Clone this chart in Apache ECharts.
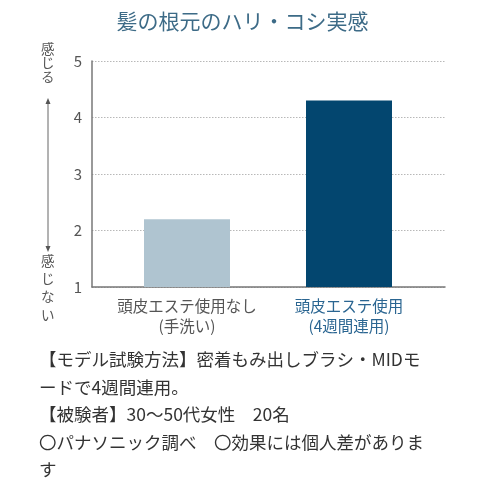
<!DOCTYPE html>
<html><head><meta charset="utf-8">
<script src="https://cdn.jsdelivr.net/npm/echarts@6/dist/echarts.min.js"></script>
<style>html,body{margin:0;padding:0;background:#fff}#c{width:485px;height:479px}</style>
</head><body><div id="c"></div>
<script>
const title = '髪の根元のハリ・コシ実感';
const categories = ['頭皮エステ使用なし\n(手洗い)', '頭皮エステ使用\n(4週間連用)'];
const values = [2.2, 4.3];
const barColors = ['#afc4d0', '#03466f'];
const labelColors = ['#555555', '#2a6591'];
const yMin = 1, yMax = 5, yInterval = 1;
const yTop = '感\nじ\nる';
const yBottom = '感\nじ\nな\nい';
const notes = [
  '【モデル試験方法】密着もみ出しブラシ・MIDモ',
  'ードで4週間連用。',
  '【被験者】30〜50代女性　20名',
  '〇パナソニック調べ　〇効果には個人差がありま',
  'す'
];
const FONT = '"Noto Sans CJK JP", "Noto Sans", sans-serif';

const chart = echarts.init(document.getElementById('c'));
const noteGraphics = notes.map((t, i) => ({
  type: 'text', left: 39, top: 351 + i * 27.5,
  style: { text: t, font: '17.5px ' + FONT, fill: '#333' }
}));
chart.setOption({
  animation: false,
  textStyle: { fontFamily: FONT },
  title: { text: title, left: 'center', top: 6,
    textStyle: { fontSize: 21, fontWeight: 'normal', color: '#3d6b87', fontFamily: FONT } },
  grid: [
    { left: 92, right: 40, top: 61, bottom: 192 },
    { left: 106, right: 55, top: 61, bottom: 192 }
  ],
  xAxis: [
    { gridIndex: 0, type: 'category', data: categories,
      axisLine: { lineStyle: { color: '#777', width: 1.5 } },
      axisTick: { show: false }, axisLabel: { show: false } },
    { gridIndex: 1, type: 'category', data: categories,
      axisLine: { show: false }, axisTick: { show: false },
      axisLabel: { interval: 0, margin: 9, fontSize: 15.5, lineHeight: 20,
        color: (v, i) => labelColors[i], fontFamily: FONT } }
  ],
  yAxis: [
    { gridIndex: 0, type: 'value', min: yMin, max: yMax, interval: yInterval,
      axisLine: { show: true, lineStyle: { color: '#777', width: 1.5 } },
      axisTick: { show: false },
      axisLabel: { margin: 10, fontSize: 15, color: '#555', fontFamily: FONT },
      splitLine: { lineStyle: { type: [1.5, 1.5], color: '#b8b8b8', width: 1 } } },
    { gridIndex: 1, type: 'value', min: yMin, max: yMax, interval: yInterval, show: false }
  ],
  series: [{
    type: 'bar', xAxisIndex: 1, yAxisIndex: 1,
    data: values.map((v, i) => ({ value: v, itemStyle: { color: barColors[i] } })),
    barWidth: 86
  }],
  graphic: [
    { type: 'text', left: 41, top: 42, style: { text: yTop, font: '13.5px ' + FONT, lineHeight: 14, fill: '#555' } },
    { type: 'text', left: 41, top: 252, style: { text: yBottom, font: '13.5px ' + FONT, lineHeight: 18, fill: '#555' } },
    { type: 'line', shape: { x1: 48, y1: 102, x2: 48, y2: 248 }, style: { stroke: '#666', lineWidth: 1 } },
    { type: 'polygon', shape: { points: [[48, 98], [45.5, 104], [50.5, 104]] }, style: { fill: '#555' } },
    { type: 'polygon', shape: { points: [[48, 252], [45.5, 246], [50.5, 246]] }, style: { fill: '#555' } }
  ].concat(noteGraphics)
});
</script></body></html>
